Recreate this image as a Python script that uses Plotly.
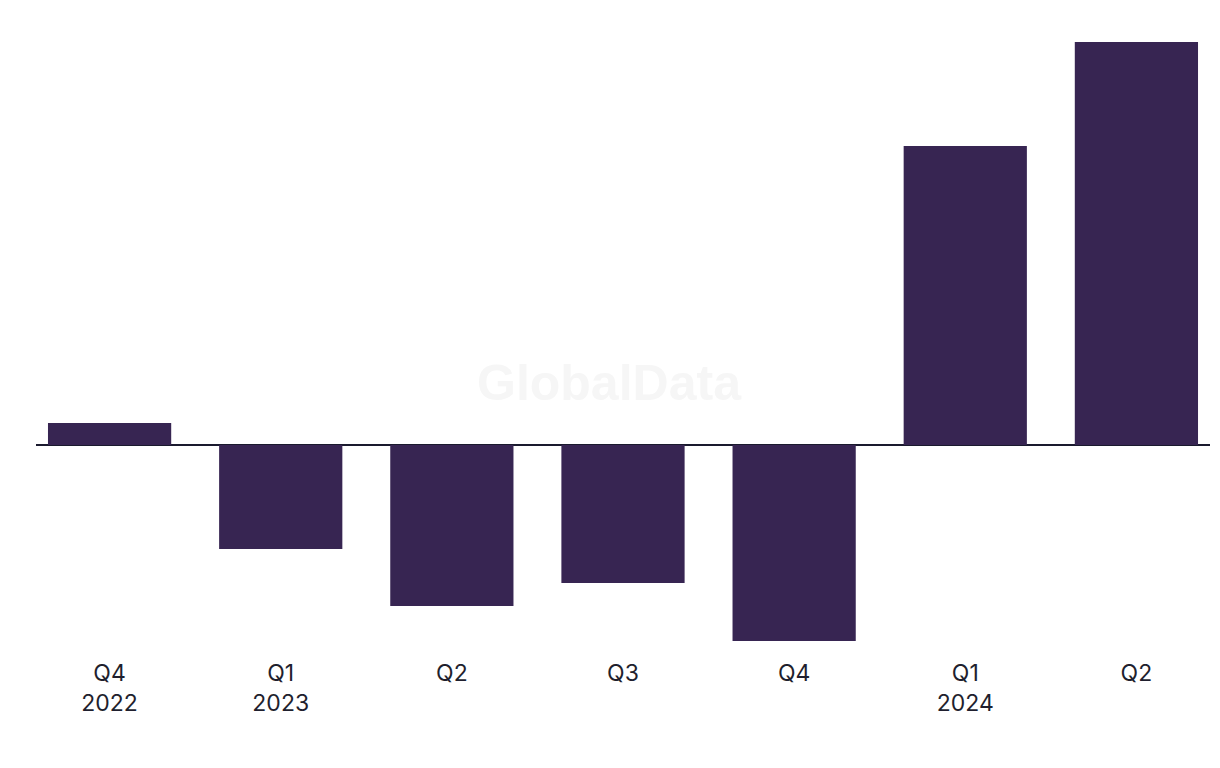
import plotly.graph_objects as go

quarters = ["Q4<br>2022", "Q1<br>2023", "Q2", "Q3", "Q4", "Q1<br>2024", "Q2"]
categories = ["Q4 2022", "Q1 2023", "Q2 2023", "Q3 2023", "Q4 2023", "Q1 2024", "Q2 2024"]
values = [22, -104, -161, -138, -196, 299, 403]

fig = go.Figure()
fig.add_trace(go.Bar(
    x=list(range(len(categories))),
    y=values,
    marker=dict(color="#372552", line=dict(width=0)),
    width=0.72,
    hoverinfo="skip",
    cliponaxis=False,
))

fig.update_layout(
    width=1220, height=768,
    margin=dict(l=28, r=18, t=34, b=121),
    plot_bgcolor="white", paper_bgcolor="white",
    showlegend=False,
    font=dict(family="Inter, Liberation Sans, Arial, sans-serif", color="#1f1f2e", size=23),
    xaxis=dict(
        range=[-0.43, 6.43],
        tickmode="array",
        tickvals=list(range(len(categories))),
        ticktext=quarters,
        showgrid=False, showline=False, zeroline=False, ticks="",
        ticklabelstandoff=2,
        tickfont=dict(size=23, color="#1f1f2e"),
    ),
    yaxis=dict(
        range=[-210, 403],
        showgrid=False, showticklabels=False, showline=False,
        zeroline=True, zerolinecolor="#1a1a2e", zerolinewidth=2,
        layer="above traces",
    ),
    annotations=[dict(
        text="<b>GlobalData</b>", x=2.92, y=62, xref="x", yref="y",
        xanchor="center", yanchor="middle", showarrow=False,
        font=dict(family="Liberation Sans, Arial, sans-serif", size=50, color="#f6f6f6"),
    )],
)

fig.write_html("out.html")
